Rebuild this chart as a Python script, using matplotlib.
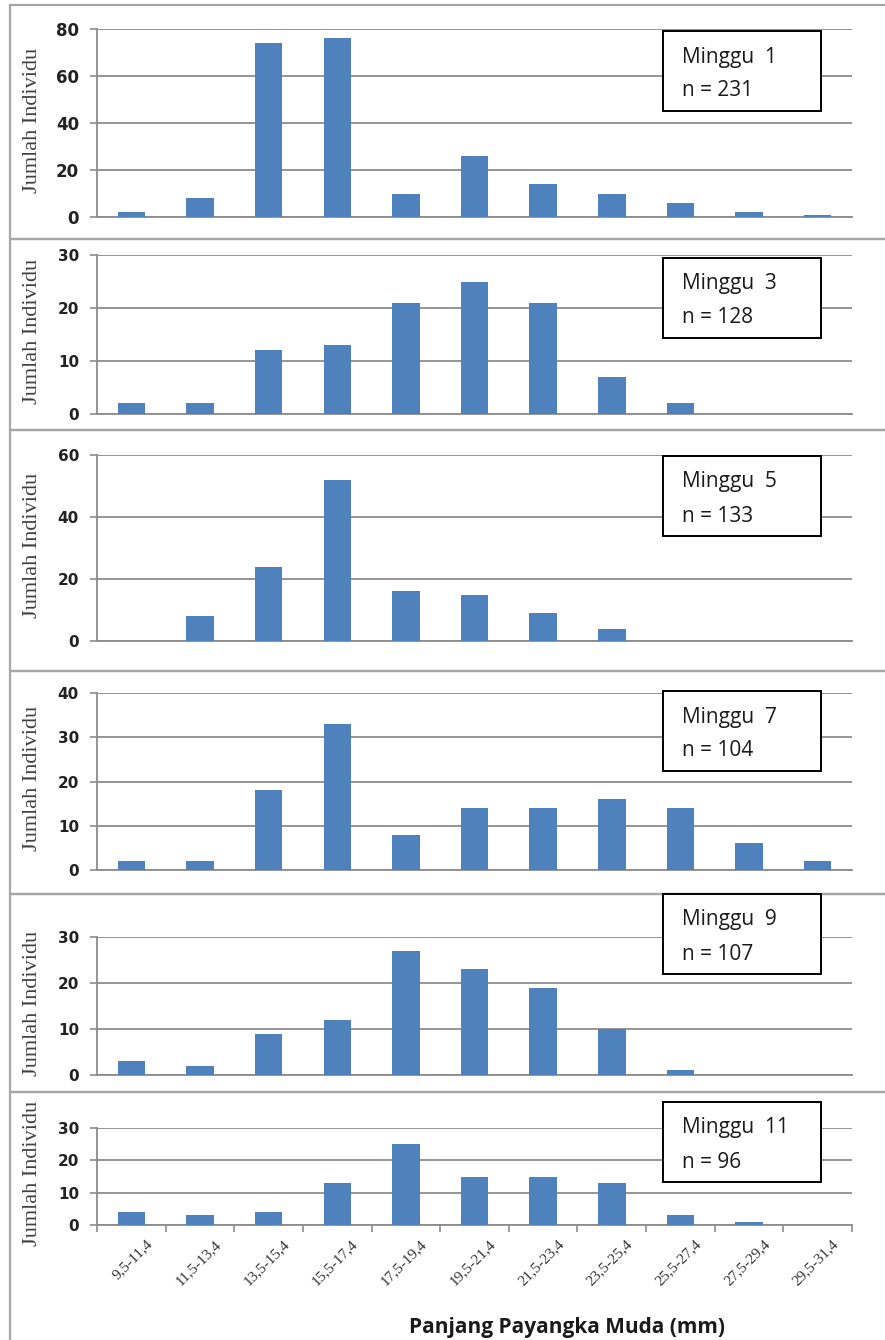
import matplotlib
matplotlib.use("Agg")
import matplotlib.pyplot as plt
from matplotlib.patches import Rectangle
from matplotlib.transforms import ScaledTranslation

W, H = 885, 1340

classes = ["9,5-11,4", "11,5-13,4", "13,5-15,4", "15,5-17,4", "17,5-19,4", "19,5-21,4",
           "21,5-23,4", "23,5-25,4", "25,5-27,4", "27,5-29,4", "29,5-31,4"]

weeks = ["Minggu  1", "Minggu  3", "Minggu  5", "Minggu  7", "Minggu  9", "Minggu  11"]
n_values = [231, 128, 133, 104, 107, 96]

week1 = [2, 8, 74, 76, 10, 26, 14, 10, 6, 2, 1]
week3 = [2, 2, 12, 13, 21, 25, 21, 7, 2, 0, 0]
week5 = [0, 8, 24, 52, 16, 15, 9, 4, 0, 0, 0]
week7 = [2, 2, 18, 33, 8, 14, 14, 16, 14, 6, 2]
week9 = [3, 2, 9, 12, 27, 23, 19, 10, 1, 0, 0]
week11 = [4, 3, 4, 13, 25, 15, 15, 13, 3, 1, 0]
counts = [week1, week3, week5, week7, week9, week11]

y_max = [80, 30, 60, 40, 30, 30]
y_step = [20, 10, 20, 10, 10, 10]

# layout in pixels
panel_top = [5, 239, 430, 671, 894, 1092]
panel_bot = [239, 430, 671, 894, 1092, 1360]
axes_top = [29, 255, 455, 693, 937, 1128]
axes_bot = [217, 414, 641, 870, 1075, 1225]
box_top = [31, 258, 456, 691, 894, 1102]
box_h = 80
ax_left, ax_right = 97, 852

bar_color = "#4F81BD"
grid_color = "#8C8C8C"
border_color = "#A6A6A6"

fig = plt.figure(figsize=(W / 100, H / 100), dpi=100)
fig.patch.set_facecolor("white")


def fx(x):
    return x / W


def fy(y):
    return 1 - y / H


for i in range(6):
    # panel frame
    fig.add_artist(Rectangle((fx(10), fy(panel_bot[i])), fx(890 - 10),
                             (panel_bot[i] - panel_top[i]) / H,
                             transform=fig.transFigure, fill=False,
                             edgecolor=border_color, linewidth=1.6, zorder=0))

    ax = fig.add_axes([fx(ax_left), fy(axes_bot[i]), fx(ax_right - ax_left),
                       (axes_bot[i] - axes_top[i]) / H])
    ax.set_facecolor("none")
    ax.bar(range(len(classes)), counts[i], width=0.4, color=bar_color, zorder=3)
    ax.set_xlim(-0.5, len(classes) - 0.5)
    ax.set_ylim(0, y_max[i])
    ax.set_yticks(range(0, y_max[i] + 1, y_step[i]))
    ax.yaxis.grid(True, color=grid_color, linewidth=1.3, zorder=0)
    ax.set_axisbelow(True)
    for s in ["top", "right"]:
        ax.spines[s].set_visible(False)
    for s in ["left", "bottom"]:
        ax.spines[s].set_color(grid_color)
        ax.spines[s].set_linewidth(1.3)
    ax.tick_params(axis="y", length=5, color=grid_color, width=1.2, pad=8,
                   labelsize=12 if i == 0 else 11)
    for lab in ax.get_yticklabels():
        lab.set_fontweight("bold")
        lab.set_color("#222222")

    if i < 5:
        ax.set_xticks([])
    else:
        ax.set_xticks(range(len(classes)))
        ax.set_xticklabels(classes, rotation=45, ha="right", rotation_mode="anchor",
                           family="Liberation Serif", fontsize=11, color="#333333")
        ax.set_xticks([k - 0.5 for k in range(len(classes) + 1)], minor=True)
        ax.tick_params(axis="x", which="major", length=0, pad=9)
        ax.tick_params(axis="x", which="minor", length=5, color=grid_color, width=1.2)
        shift = ScaledTranslation(0.14, 0, fig.dpi_scale_trans)
        for lab in ax.get_xticklabels():
            lab.set_transform(lab.get_transform() + shift)

    fig.text(fx(33), fy((axes_top[i] + axes_bot[i]) / 2 - 3), "Jumlah Individu",
             rotation=90, ha="center", va="center", family="Liberation Serif",
             fontsize=16, color="#404040")

    # legend-like annotation box
    fig.add_artist(Rectangle((fx(663), fy(box_top[i] + box_h)), fx(821 - 663), box_h / H,
                             transform=fig.transFigure, facecolor="white",
                             edgecolor="black", linewidth=1.4, zorder=5))
    fig.text(fx(682), fy(box_top[i] + 26), weeks[i], ha="left", va="center",
             family="Open Sans", fontsize=15, color="#1a1a1a", zorder=6)
    fig.text(fx(682), fy(box_top[i] + 60), f"n = {n_values[i]}", ha="left", va="center",
             family="Open Sans", fontsize=15, color="#1a1a1a", zorder=6)

fig.text(fx(567), fy(1328), "Panjang Payangka Muda (mm)", ha="center", va="center",
         family="Open Sans", fontweight="bold", fontsize=15, color="#1a1a1a")

fig.savefig("out.png", dpi=100)
